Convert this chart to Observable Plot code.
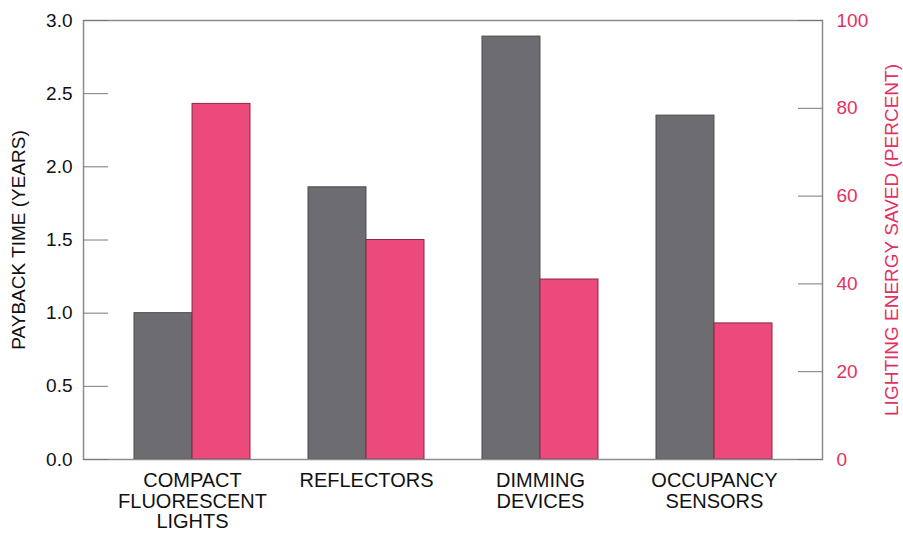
<!DOCTYPE html>
<html><head><meta charset="utf-8">
<script src="https://cdn.jsdelivr.net/npm/d3@7"></script>
<script src="https://cdn.jsdelivr.net/npm/@observablehq/plot@0.6"></script>
<style>body{margin:0;background:#fff}</style>
</head><body><div id="chart"></div>
<script>
const categories = ["COMPACT\nFLUORESCENT\nLIGHTS", "REFLECTORS", "DIMMING\nDEVICES", "OCCUPANCY\nSENSORS"];
const paybackYears = [1.0, 1.86, 2.89, 2.35];
const energySavedPct = [81, 50, 41, 31];
const leftTicks = [0, 0.5, 1, 1.5, 2, 2.5, 3];
const rightTicks = [0, 20, 40, 60, 80, 100];

const W = 903, H = 533, mL = 83, mR = 81, mT = 20, mB = 74;
const padIn = 0.334, padOut = 0.287;
const step = (W - mL - mR) / (categories.length - padIn + 2 * padOut);
const bw = step * (1 - padIn);
const k = 3 / 100; // right axis (percent) mapped onto left scale (years)

const rows = categories.map((c, i) => ({cat: c, years: paybackYears[i], pct: energySavedPct[i]}));
const gray = "#6d6d71", pink = "#ec4a7c", pinkText = "#e2315f";

const chart = Plot.plot({
  width: W, height: H,
  marginLeft: mL, marginRight: mR, marginTop: mT, marginBottom: mB,
  style: {fontFamily: "'Liberation Sans', Arial, Helvetica, sans-serif", fontSize: "19px", color: "#111", background: "#fff"},
  x: {domain: categories, paddingInner: padIn, paddingOuter: padOut, axis: null},
  y: {domain: [0, 3], axis: null},
  marks: [
    Plot.barY(rows, {x: "cat", y: "years", fill: gray, stroke: "#4a4a4e", strokeWidth: 1, insetRight: bw / 2}),
    Plot.barY(rows, {x: "cat", y: d => d.pct * k, fill: pink, stroke: "#8a2b44", strokeWidth: 1, insetLeft: bw / 2}),
    Plot.frame({stroke: "#8c8c8c", strokeWidth: 1.5}),
    Plot.axisX({anchor: "bottom", tickSize: 0, tickPadding: 13, fontSize: 20, lineHeight: 1.03, fill: "#111", label: null}),
    Plot.axisY(leftTicks, {anchor: "left", tickSize: -25, tickPadding: 36, tickFormat: d3.format(".1f"),
      stroke: "#7a7a7a", fill: "#111", fontSize: 19,
      label: "PAYBACK TIME (YEARS)", labelAnchor: "center", labelArrow: "none", labelOffset: 72}),
    Plot.axisY(rightTicks.map(v => v * k), {anchor: "right", tickSize: -25, tickPadding: 39,
      tickFormat: d => String(Math.round(d / k)),
      stroke: "#7a7a7a", fill: pinkText, fontSize: 19,
      label: "LIGHTING ENERGY SAVED (PERCENT)", labelAnchor: "center", labelArrow: "none", labelOffset: 75})
  ]
});
document.getElementById("chart").appendChild(chart);
</script>
</body></html>
